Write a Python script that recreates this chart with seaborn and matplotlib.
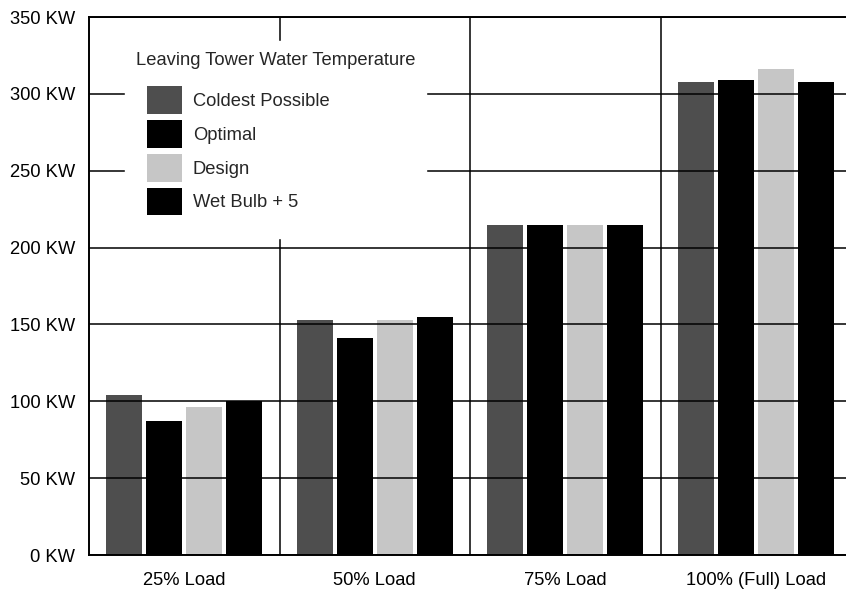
import matplotlib
matplotlib.use("Agg")
import matplotlib.pyplot as plt
import seaborn as sns
import pandas as pd

loads = ["25% Load", "50% Load", "75% Load", "100% (Full) Load"]
series = ["Coldest Possible", "Optimal", "Design", "Wet Bulb + 5"]
coldest = [104, 153, 215, 308]
optimal = [87, 141, 215, 309]
design = [96, 153, 215, 316]
wetbulb = [100, 155, 215, 308]
y_ticks = [0, 50, 100, 150, 200, 250, 300, 350]
y_labels = [f"{v} KW" for v in y_ticks]

rows = []
for name, vals in zip(series, [coldest, optimal, design, wetbulb]):
    for ld, v in zip(loads, vals):
        rows.append({"Load": ld, "Series": name, "KW": v})
df = pd.DataFrame(rows)

sns.set_theme(style="white")
plt.rcParams["font.family"] = ["Liberation Sans", "DejaVu Sans"]

fig = plt.figure(figsize=(8.46, 5.89), dpi=100)
W, H = 846, 589
ax = fig.add_axes([89 / W, 1 - 555 / H, 762 / W, 538 / H])

palette = {"Coldest Possible": "#4e4e4e", "Optimal": "#000000",
           "Design": "#c6c6c6", "Wet Bulb + 5": "#000000"}
sns.barplot(data=df, x="Load", y="KW", hue="Series", order=loads,
            hue_order=series, palette=palette, width=0.84, gap=0.1,
            saturation=1, ax=ax, edgecolor="none", linewidth=0)

FS = 13.2
ax.set_xlim(-0.5, 3.5)
ax.set_ylim(0, 350)
ax.set_yticks(y_ticks)
ax.set_yticklabels(y_labels)
ax.set_xticks(range(len(loads)))
ax.set_xticklabels(loads)
ax.set_xticks([0.5, 1.5, 2.5], minor=True)
ax.set_xlabel("")
ax.set_ylabel("")
ax.tick_params(axis="both", which="both", length=0, labelsize=FS, colors="black")
ax.tick_params(axis="y", pad=10)
ax.tick_params(axis="x", pad=12)

ax.set_axisbelow(False)
ax.yaxis.grid(True, which="major", color="black", linewidth=1.1)
ax.xaxis.grid(True, which="minor", color="black", linewidth=1.1)
ax.xaxis.grid(False, which="major")

for side in ["left", "bottom", "top"]:
    ax.spines[side].set_visible(True)
    ax.spines[side].set_color("black")
    ax.spines[side].set_linewidth(1.4)
ax.spines["right"].set_visible(False)

handles, labels = ax.get_legend_handles_labels()
leg = ax.legend(handles, labels, title="Leaving Tower Water Temperature",
                loc="upper left", bbox_to_anchor=(0.035, 0.972),
                frameon=True, fancybox=False, framealpha=1,
                edgecolor="white", facecolor="white",
                fontsize=FS, title_fontsize=FS,
                handlelength=1.9, handleheight=1.95, labelspacing=0.33,
                handletextpad=0.6, borderpad=0.6, alignment="left")
leg._legend_handle_box.pad = 8
leg.set_zorder(10)

fig.savefig("out.png", dpi=100)
